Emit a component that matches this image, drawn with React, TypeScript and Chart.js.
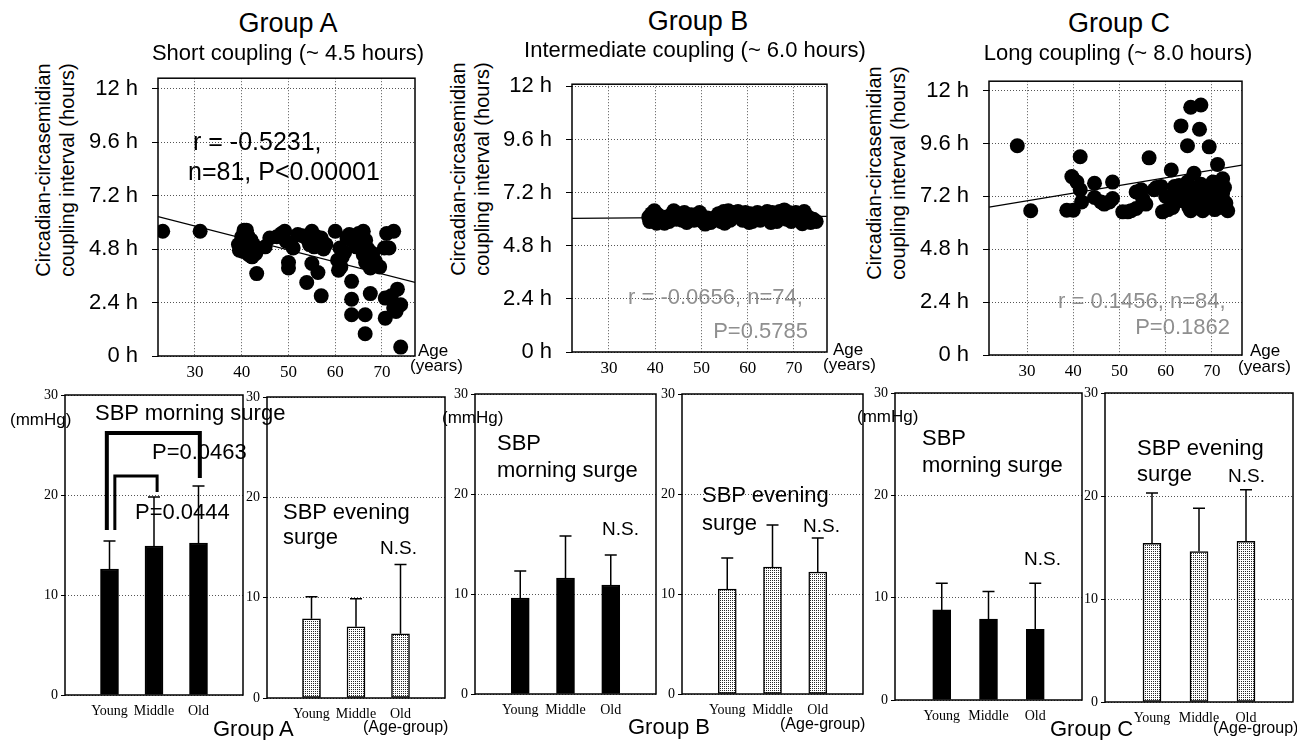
import React, { useEffect, useRef } from 'react';
import { Chart, registerables } from 'chart.js';

Chart.register(...registerables);

const SANS = '"Liberation Sans", Arial, Helvetica, sans-serif';
const SERIF = '"Liberation Serif", "Times New Roman", serif';

// ---------------- data ----------------
const hourTicks = [0, 2.4, 4.8, 7.2, 9.6, 12];
const ageTicks = [30, 40, 50, 60, 70];

// Group A – short coupling
const agesA = [23.1, 31.1, 39.3, 39.5, 40.0, 40.5, 41.0, 41.0, 41.5, 42.0, 42.2, 42.5, 43.0, 43.2, 40.2, 41.3,
  45.0, 46.0, 47.5, 48.5, 49.5, 49.2, 50.0, 50.0, 51.0, 50.5, 52.0, 53.0, 54.0, 55.0, 54.5, 55.5, 56.0, 57.0,
  57.5, 58.0, 55.0, 56.3, 53.9, 57.0, 60.0, 61.0, 61.5, 60.5, 60.7, 61.2, 62.0, 62.5, 63.0, 63.5, 64.0, 64.5,
  65.0, 65.5, 66.0, 66.5, 63.5, 63.5, 63.5, 66.4, 66.4, 66.0, 66.5, 67.5, 67.5, 68.6, 67.0, 68.0, 69.5, 70.5,
  71.0, 72.5, 71.5, 70.7, 70.7, 72.0, 73.3, 74.0, 73.0, 74.0, 72.5];
const hoursA = [5.6, 5.6, 5.0, 4.75, 5.35, 5.65, 5.65, 4.95, 4.55, 5.2, 4.45, 5.0, 4.6, 3.7, 4.7, 5.4,
  4.9, 5.3, 5.35, 5.5, 5.15, 5.6, 4.2, 3.95, 4.85, 5.05, 5.45, 5.4, 5.25, 5.6, 5.0, 4.9, 5.35, 5.3,
  4.8, 5.0, 4.15, 3.75, 3.3, 2.7, 5.6, 4.85, 4.45, 4.3, 3.85, 4.0, 4.65, 5.3, 5.45, 5.2, 5.35, 4.9,
  5.5, 5.45, 5.6, 5.2, 3.35, 2.55, 1.85, 1.85, 1.0, 4.55, 4.2, 3.95, 2.8, 4.25, 4.8, 4.6, 4.0, 4.85,
  5.5, 5.6, 4.85, 2.6, 1.7, 2.7, 3.0, 2.3, 2.0, 0.4, 2.15];
const fitAgesA = [22.1, 77.1];
const fitHoursA = [6.26, 3.3];

// Group B – intermediate coupling
const agesB = [38.6, 38.8, 39.2, 39.8, 40.1, 40.3, 40.6, 41.2, 42.0, 42.5, 43.5, 44.0, 44.6, 45.2, 45.8, 46.3,
  47.1, 47.8, 48.4, 49.0, 49.6, 50.2, 50.8, 51.3, 52.0, 52.6, 53.1, 53.7, 54.2, 54.8, 55.3, 55.8, 56.2, 56.8,
  57.3, 57.9, 58.4, 58.9, 59.5, 60.1, 60.6, 61.0, 61.6, 62.1, 62.7, 63.2, 63.7, 64.2, 64.8, 65.3, 65.8, 66.3,
  66.9, 67.4, 67.9, 68.4, 68.9, 69.4, 69.9, 70.4, 70.9, 71.4, 71.8, 72.2, 72.6, 73.1, 73.6, 74.2, 74.8, 60.3,
  55.0, 46.8, 43.0, 65.0];
const hoursB = [6.1, 5.9, 6.25, 6.38, 6.0, 5.82, 6.2, 6.05, 5.82, 6.1, 6.2, 6.38, 6.0, 6.25, 5.95, 6.3,
  6.1, 6.2, 5.95, 6.1, 6.3, 5.9, 5.78, 6.05, 5.85, 5.95, 6.1, 6.25, 5.9, 6.35, 6.15, 6.38, 5.95, 6.3,
  6.1, 6.35, 6.2, 5.95, 6.3, 6.1, 6.25, 5.9, 6.15, 6.3, 5.95, 6.1, 6.25, 6.35, 6.0, 6.3, 6.1, 5.9,
  6.35, 6.2, 6.42, 6.0, 6.3, 5.9, 6.15, 6.3, 6.0, 6.2, 5.8, 6.35, 5.95, 6.1, 5.85, 6.0, 5.9, 5.85,
  5.82, 5.85, 5.9, 5.85];
const fitAgesB = [22.0, 77.1];
const fitHoursB = [6.04, 6.13];

// Group C – long coupling
const agesC = [27.9, 30.8, 38.6, 40.0, 39.7, 40.8, 41.5, 41.5, 41.8, 44.6, 44.6, 46.0, 46.7, 48.5, 48.5, 47.8,
  50.7, 51.8, 52.5, 53.6, 53.6, 54.7, 55.0, 55.7, 56.4, 57.5, 58.0, 59.0, 59.3, 60.0, 61.2, 61.5, 61.9, 62.2,
  62.9, 63.3, 63.6, 64.0, 64.7, 64.7, 65.0, 65.4, 65.4, 65.8, 66.1, 66.5, 66.8, 67.3, 67.6, 67.6, 68.0, 68.3,
  68.7, 69.0, 69.4, 69.5, 70.2, 70.2, 70.6, 71.0, 71.2, 71.6, 72.0, 72.3, 72.3, 72.7, 73.0, 73.4, 60.5, 62.0];
const hoursC = [9.5, 6.55, 6.57, 6.57, 8.1, 7.85, 7.5, 9.0, 6.95, 7.8, 7.15, 6.95, 6.85, 7.85, 7.1, 6.95,
  6.5, 6.5, 6.55, 6.65, 7.4, 7.5, 7.1, 6.85, 8.95, 7.5, 7.6, 7.65, 6.5, 7.2, 8.4, 6.7, 7.65, 7.0,
  7.7, 10.4, 7.0, 7.4, 9.5, 7.85, 6.7, 11.25, 6.55, 7.3, 8.25, 7.0, 7.6, 10.25, 11.35, 7.75, 6.55, 7.2,
  7.15, 6.8, 9.45, 7.5, 7.85, 7.0, 6.6, 7.3, 8.65, 6.7, 7.6, 8.0, 7.35, 7.6, 6.9, 6.55, 6.6, 7.4];
const fitAgesC = [21.8, 76.5];
const fitHoursC = [6.71, 8.62];

// Bar panels (mean and SD, mmHg)
const ageGroups = ['Young', 'Middle', 'Old'];
const groupPositions = [1, 2, 3];
const surgeTicks = [0, 10, 20, 30];

const morningA = [12.6, 14.9, 15.2];
const morningSdA = [2.8, 4.9, 5.7];
const eveningA = [7.9, 7.1, 6.4];
const eveningSdA = [2.2, 2.8, 6.9];

const morningB = [9.6, 11.6, 10.9];
const morningSdB = [2.7, 4.2, 3.0];
const eveningB = [10.5, 12.7, 12.2];
const eveningSdB = [3.1, 4.2, 3.4];

const morningC = [8.8, 7.9, 6.9];
const morningSdC = [2.6, 2.7, 4.5];
const eveningC = [15.4, 14.6, 15.6];
const eveningSdC = [4.9, 4.2, 5.0];

// significance brackets (Group A morning), in data units
const bracketOuterX = [0.94, 0.94, 3.03, 3.03];
const bracketOuterY = [16.5, 26.2, 26.2, 21.7];
const bracketInnerX = [1.12, 1.12, 2.07, 2.07];
const bracketInnerY = [16.5, 21.9, 21.9, 20.3];

// ---------------- plugins ----------------
const boxPlugin = {
  id: 'box',
  afterDraw(chart: any) {
    const { ctx, chartArea } = chart;
    const { left, top, right, bottom } = chartArea;
    ctx.save();
    ctx.strokeStyle = '#000';
    ctx.lineWidth = 1.5;
    ctx.strokeRect(left, top, right - left, bottom - top);
    ctx.restore();
  },
};

const errorBarPlugin = {
  id: 'errorBars',
  afterDatasetsDraw(chart: any) {
    const ds = chart.data.datasets[0];
    const sd = ds.errorSd;
    if (!sd) return;
    const meta = chart.getDatasetMeta(0);
    const ys = chart.scales.y;
    const ctx = chart.ctx;
    ctx.save();
    ctx.strokeStyle = '#000';
    ctx.lineWidth = 1.5;
    meta.data.forEach((el: any, i: number) => {
      const topPx = ys.getPixelForValue(ds.data[i].y + sd[i]);
      ctx.beginPath();
      ctx.moveTo(el.x, el.y);
      ctx.lineTo(el.x, topPx);
      ctx.moveTo(el.x - 6, topPx);
      ctx.lineTo(el.x + 6, topPx);
      ctx.stroke();
    });
    ctx.restore();
  },
};

function stipple() {
  const c = document.createElement('canvas');
  c.width = 2;
  c.height = 2;
  const x = c.getContext('2d')!;
  x.fillStyle = '#ffffff';
  x.fillRect(0, 0, 2, 2);
  x.fillStyle = '#2a2a2a';
  x.fillRect(0, 0, 1, 1);
  return x.createPattern(c, 'repeat');
}

// ---------------- configs ----------------
function scatterConfig(ages: number[], hours: number[], fitX: number[], fitY: number[],
  xmin: number, xmax: number, ymax: number, m: number[]) {
  const [ML, MT, MR, MB] = m;
  return {
    type: 'scatter',
    data: {
      datasets: [
        {
          type: 'line',
          data: fitX.map((x, i) => ({ x, y: fitY[i] })),
          borderColor: '#000',
          borderWidth: 1.2,
          pointRadius: 0,
          fill: false,
          order: 0,
        },
        {
          data: ages.map((a, i) => ({ x: a, y: hours[i] })),
          backgroundColor: '#000',
          borderWidth: 0,
          pointRadius: 7.5,
          pointHoverRadius: 7.5,
          order: 1,
        },
      ],
    },
    options: {
      responsive: false,
      animation: false,
      events: [],
      layout: { padding: { top: MT, right: MR, bottom: 0, left: 0 } },
      plugins: { legend: { display: false }, tooltip: { enabled: false } },
      scales: {
        x: {
          type: 'linear',
          min: xmin,
          max: xmax,
          afterBuildTicks: (s: any) => { s.ticks = ageTicks.map((v) => ({ value: v })); },
          afterFit: (s: any) => { s.height = MB; },
          ticks: { font: { family: SERIF, size: 17 }, color: '#000', padding: 6 },
          grid: { color: '#555', lineWidth: 1, drawTicks: false },
          border: { display: false, dash: [1, 2] },
        },
        y: {
          type: 'linear',
          min: 0,
          max: ymax,
          afterBuildTicks: (s: any) => { s.ticks = hourTicks.map((v) => ({ value: v })); },
          afterFit: (s: any) => { s.width = ML; },
          ticks: { font: { family: SANS, size: 22 }, color: '#000', padding: 14, callback: (v: any) => `${v} h` },
          grid: { color: '#555', lineWidth: 1, tickColor: '#000', tickLength: 6, tickBorderDash: [] },
          border: { display: false, dash: [1, 2] },
        },
      },
    },
    plugins: [boxPlugin],
  };
}

function barConfig(values: number[], sd: number[], evening: boolean, m: number[], brackets: any[] = []) {
  const [ML, MT, MR, MB] = m;
  return {
    type: 'bar',
    data: {
      datasets: [
        {
          type: 'bar',
          data: values.map((v, i) => ({ x: groupPositions[i], y: v })),
          errorSd: sd,
          backgroundColor: evening ? stipple() : '#000',
          borderColor: '#000',
          borderWidth: 1.5,
          borderSkipped: false,
          barThickness: 18,
          order: 1,
        },
        ...brackets.map((b) => ({
          type: 'line',
          data: b.x.map((x: number, i: number) => ({ x, y: b.y[i] })),
          borderColor: '#000',
          borderWidth: b.w,
          pointRadius: 0,
          fill: false,
          tension: 0,
          order: 0,
        })),
      ],
    },
    options: {
      responsive: false,
      animation: false,
      events: [],
      layout: { padding: { top: MT, right: MR, bottom: 0, left: 0 } },
      plugins: { legend: { display: false }, tooltip: { enabled: false } },
      scales: {
        x: {
          type: 'linear',
          min: 0,
          max: 4,
          offset: false,
          afterBuildTicks: (s: any) => { s.ticks = groupPositions.map((v) => ({ value: v })); },
          afterFit: (s: any) => { s.height = MB; },
          ticks: {
            font: { family: SERIF, size: 14 },
            color: '#000',
            padding: 8,
            callback: (v: any) => ageGroups[groupPositions.indexOf(v)] ?? '',
          },
          grid: { display: false, offset: false, drawTicks: false },
          border: { display: false },
        },
        y: {
          type: 'linear',
          min: 0,
          max: 30,
          afterBuildTicks: (s: any) => { s.ticks = surgeTicks.map((v) => ({ value: v })); },
          afterFit: (s: any) => { s.width = ML; },
          ticks: { font: { family: SERIF, size: 14 }, color: '#000', padding: 3 },
          grid: { color: '#555', lineWidth: 1, tickColor: '#000', tickLength: 4, tickBorderDash: [] },
          border: { display: false, dash: [1, 2] },
        },
      },
    },
    plugins: [boxPlugin, errorBarPlugin],
  };
}

const SC_M = [75, 14, 8, 30];
const BAR_M = [32, 12, 3, 40];

const chartSpecs = [
  { area: [158, 65, 415, 356], margins: SC_M, build: () => scatterConfig(agesA, hoursA, fitAgesA, fitHoursA, 22.09, 77.06, 12.47, SC_M) },
  { area: [572, 71, 827, 352], margins: SC_M, build: () => scatterConfig(agesB, hoursB, fitAgesB, fitHoursB, 22.0, 77.14, 12.1, SC_M) },
  { area: [989, 68, 1242, 355], margins: SC_M, build: () => scatterConfig(agesC, hoursC, fitAgesC, fitHoursC, 21.78, 76.49, 12.43, SC_M) },
  {
    area: [65, 395, 243, 695], margins: BAR_M, build: () => barConfig(morningA, morningSdA, false, BAR_M, [
      { x: bracketOuterX, y: bracketOuterY, w: 4 },
      { x: bracketInnerX, y: bracketInnerY, w: 3 },
    ]),
  },
  { area: [267, 397, 445, 698], margins: BAR_M, build: () => barConfig(eveningA, eveningSdA, true, BAR_M) },
  { area: [475, 394, 656, 694], margins: BAR_M, build: () => barConfig(morningB, morningSdB, false, BAR_M) },
  { area: [682, 394, 863, 694], margins: BAR_M, build: () => barConfig(eveningB, eveningSdB, true, BAR_M) },
  { area: [895, 393, 1082, 700], margins: BAR_M, build: () => barConfig(morningC, morningSdC, false, BAR_M) },
  { area: [1105, 393, 1293, 702], margins: BAR_M, build: () => barConfig(eveningC, eveningSdC, true, BAR_M) },
];

const GRAY = '#8f8f8f';
const texts: any[] = [
  { text: 'Group A', x: 288, y: 33, size: 27, align: 'center' },
  { text: 'Short coupling (~ 4.5 hours)', x: 288, y: 61, size: 22, align: 'center' },
  { text: 'Group B', x: 698, y: 31, size: 27, align: 'center' },
  { text: 'Intermediate coupling (~ 6.0 hours)', x: 695, y: 58, size: 22, align: 'center' },
  { text: 'Group C', x: 1119, y: 33, size: 27, align: 'center' },
  { text: 'Long coupling (~ 8.0 hours)', x: 1118, y: 61, size: 22, align: 'center' },
  { text: 'r = -0.5231,', x: 193, y: 150, size: 25 },
  { text: 'n=81, P<0.00001', x: 188, y: 180, size: 25 },
  { text: 'r = -0.0656, n=74,', x: 628, y: 305, size: 22, color: GRAY },
  { text: 'P=0.5785', x: 808, y: 339, size: 22, color: GRAY, align: 'right' },
  { text: 'r = 0.1456, n=84,', x: 1058, y: 309, size: 22, color: GRAY },
  { text: 'P=0.1862', x: 1230, y: 335, size: 22, color: GRAY, align: 'right' },
  { text: 'Age', x: 418, y: 356, size: 17 },
  { text: '(years)', x: 410, y: 371, size: 17 },
  { text: 'Age', x: 833, y: 355, size: 17 },
  { text: '(years)', x: 823, y: 370, size: 17 },
  { text: 'Age', x: 1250, y: 356, size: 17 },
  { text: '(years)', x: 1238, y: 372, size: 17 },
  { text: '(mmHg)', x: 10, y: 425, size: 17 },
  { text: 'SBP morning surge', x: 95, y: 421, size: 22 },
  { text: 'P=0.0463', x: 152, y: 460, size: 22 },
  { text: 'P=0.0444', x: 135, y: 520, size: 22 },
  { text: 'SBP evening', x: 283, y: 520, size: 22 },
  { text: 'surge', x: 283, y: 545, size: 22 },
  { text: 'N.S.', x: 380, y: 554, size: 19 },
  { text: 'Group A', x: 213, y: 737, size: 22 },
  { text: '(Age-group)', x: 363, y: 733, size: 16 },
  { text: '(mmHg)', x: 442, y: 423, size: 17 },
  { text: 'SBP', x: 497, y: 451, size: 22 },
  { text: 'morning surge', x: 497, y: 478, size: 22 },
  { text: 'N.S.', x: 602, y: 535, size: 19 },
  { text: 'SBP evening', x: 702, y: 503, size: 22 },
  { text: 'surge', x: 702, y: 531, size: 22 },
  { text: 'N.S.', x: 803, y: 532, size: 19 },
  { text: 'Group B', x: 628, y: 735, size: 22 },
  { text: '(Age-group)', x: 780, y: 730, size: 16 },
  { text: '(mmHg)', x: 857, y: 422, size: 17 },
  { text: 'SBP', x: 922, y: 446, size: 22 },
  { text: 'morning surge', x: 922, y: 473, size: 22 },
  { text: 'N.S.', x: 1024, y: 565, size: 19 },
  { text: 'SBP evening', x: 1137, y: 456, size: 22 },
  { text: 'surge', x: 1137, y: 482, size: 22 },
  { text: 'N.S.', x: 1228, y: 482, size: 19 },
  { text: 'Group C', x: 1050, y: 737, size: 22 },
  { text: '(Age-group)', x: 1213, y: 734, size: 16 },
];

const yTitles = [
  { cx: 55, cy: 170 },
  { cx: 470, cy: 169 },
  { cx: 886, cy: 173 },
];
const yTitleLines = ['Circadian-circasemidian', 'coupling interval (hours)'];

function ChartCanvas({ spec }: { spec: any }) {
  const ref = useRef<HTMLCanvasElement>(null);
  const [l, t, r, b] = spec.area;
  const [ML, MT, MR, MB] = spec.margins;
  const w = r - l + ML + MR;
  const h = b - t + MT + MB;
  useEffect(() => {
    const chart = new Chart(ref.current as HTMLCanvasElement, spec.build() as any);
    return () => chart.destroy();
  }, []);
  return (
    <canvas
      ref={ref}
      width={w}
      height={h}
      style={{ position: 'absolute', left: l - ML, top: t - MT, width: w, height: h }}
    />
  );
}

function Label({ item }: { item: any }) {
  const { text, x, y, size, align, color } = item;
  const transform = align === 'center' ? 'translateX(-50%)' : align === 'right' ? 'translateX(-100%)' : undefined;
  return (
    <div
      style={{
        position: 'absolute',
        left: x,
        top: y - 0.8465 * size,
        fontFamily: SANS,
        fontSize: size,
        lineHeight: 1,
        color: color || '#000',
        whiteSpace: 'nowrap',
        transform,
        pointerEvents: 'none',
      }}
    >
      {text}
    </div>
  );
}

export default function App() {
  return (
    <div
      style={{
        position: 'absolute',
        left: 0,
        top: 0,
        width: 1297,
        height: 740,
        background: '#fff',
        overflow: 'hidden',
      }}
    >
      {chartSpecs.map((s, i) => (
        <ChartCanvas key={i} spec={s} />
      ))}
      {yTitles.map((p, i) => (
        <div
          key={'yt' + i}
          style={{
            position: 'absolute',
            left: p.cx,
            top: p.cy,
            transform: 'translate(-50%, -50%) rotate(-90deg)',
            fontFamily: SANS,
            fontSize: 20,
            lineHeight: '24px',
            textAlign: 'center',
            whiteSpace: 'nowrap',
            color: '#000',
          }}
        >
          {yTitleLines.map((ln, j) => (
            <div key={j}>{ln}</div>
          ))}
        </div>
      ))}
      {texts.map((t, i) => (
        <Label key={'t' + i} item={t} />
      ))}
    </div>
  );
}
